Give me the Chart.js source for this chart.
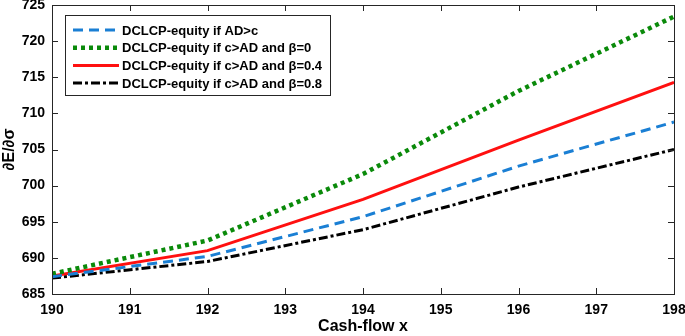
<!DOCTYPE html>
<html>
<head>
<meta charset="utf-8">
<script src="https://cdn.jsdelivr.net/npm/chart.js@4.4.1/dist/chart.umd.min.js"></script>
<style>
  html, body { margin: 0; padding: 0; background: #fff; }
  #wrap { width: 685px; height: 336px; position: relative; }
</style>
</head>
<body>
<div id="wrap"><canvas id="chart"></canvas></div>
<script>
// cash-flow values on the x axis
const cashFlow = [190, 192, 194, 196, 198];

// dE/dsigma for each case
const adGreaterC = [687.4, 690.2, 695.7, 702.7, 708.8];
const beta0 = [687.8, 692.4, 701.6, 713.1, 723.4];
const beta04 = [687.5, 691.0, 698.1, 706.3, 714.3];
const beta08 = [687.2, 689.5, 693.9, 699.8, 705.0];

const xTicks = [190, 191, 192, 193, 194, 195, 196, 197, 198];
const yTicks = [685, 690, 695, 700, 705, 710, 715, 720, 725];

const seriesNames = [
    "DCLCP-equity if AD>c",
    "DCLCP-equity if c>AD and \u03b2=0",
    "DCLCP-equity if c>AD and \u03b2=0.4",
    "DCLCP-equity if c>AD and \u03b2=0.8"
];

function toPoints(ys) {
    return cashFlow.map((x, i) => ({ x: x, y: ys[i] }));
}

const fontFamily = "'Liberation Sans', Arial, sans-serif";

// box around the plot with inward ticks, like the original figure
const boxPlugin = {
    id: "box",
    afterDraw(chart) {
        const ctx = chart.ctx;
        const a = chart.chartArea;
        const xs = chart.scales.x;
        const ys = chart.scales.y;
        ctx.save();
        ctx.strokeStyle = "#262626";
        ctx.lineWidth = 1;
        ctx.strokeRect(a.left + 0.5, a.top + 0.5, a.right - a.left, a.bottom - a.top);
        ctx.beginPath();
        xTicks.forEach((v) => {
            const px = Math.round(xs.getPixelForValue(v)) + 0.5;
            ctx.moveTo(px, a.bottom); ctx.lineTo(px, a.bottom - 6);
            ctx.moveTo(px, a.top); ctx.lineTo(px, a.top + 6);
        });
        yTicks.forEach((v) => {
            const py = Math.round(ys.getPixelForValue(v)) + 0.5;
            ctx.moveTo(a.left, py); ctx.lineTo(a.left + 6, py);
            ctx.moveTo(a.right, py); ctx.lineTo(a.right - 6, py);
        });
        ctx.stroke();

        // legend inside plot
        const lx = 65, ly = 15, lw = 265, lh = 80;
        ctx.fillStyle = "#fff";
        ctx.fillRect(lx, ly, lw, lh);
        ctx.strokeStyle = "#262626";
        ctx.strokeRect(lx + 0.5, ly + 0.5, lw, lh);
        ctx.font = "bold 13px " + fontFamily;
        ctx.textBaseline = "middle";
        chart.data.datasets.forEach((ds, i) => {
            const ry = 30 + i * 17.7;
            ctx.beginPath();
            ctx.strokeStyle = ds.borderColor;
            ctx.lineWidth = ds.borderWidth;
            ctx.setLineDash(ds.borderDash || []);
            ctx.moveTo(73, ry);
            ctx.lineTo(119, ry);
            ctx.stroke();
            ctx.setLineDash([]);
            ctx.fillStyle = "#000";
            ctx.fillText(ds.label, 122, ry + 1);
        });
        ctx.restore();
    }
};

new Chart(document.getElementById("chart"), {
    type: "line",
    data: {
        datasets: [
            { label: seriesNames[0], data: toPoints(adGreaterC), borderColor: "#1a7fd4", borderWidth: 3, borderDash: [10, 6] },
            { label: seriesNames[1], data: toPoints(beta0), borderColor: "#0a8a0a", borderWidth: 4.5, borderDash: [4, 4] },
            { label: seriesNames[2], data: toPoints(beta04), borderColor: "#ff1010", borderWidth: 3, borderDash: [] },
            { label: seriesNames[3], data: toPoints(beta08), borderColor: "#000000", borderWidth: 3, borderDash: [9, 3, 3, 3] }
        ]
    },
    options: {
        responsive: true,
        maintainAspectRatio: false,
        animation: false,
        elements: { point: { radius: 0 }, line: { tension: 0 } },
        layout: { padding: { top: 5, right: 11, left: 0, bottom: 0 } },
        plugins: { legend: { display: false }, tooltip: { enabled: false } },
        scales: {
            x: {
                type: "linear",
                min: 190,
                max: 198,
                afterBuildTicks: (s) => { s.ticks = xTicks.map((v) => ({ value: v })); },
                afterFit: (s) => { s.height = 42; s.paddingLeft = 0; s.paddingRight = 0; },
                grid: { display: false, drawTicks: false },
                border: { display: false },
                ticks: { color: "#000", padding: 8, maxRotation: 0, font: { family: fontFamily, size: 14, weight: "bold" } },
                title: { display: true, text: "Cash-flow x", color: "#000", padding: 0, font: { family: fontFamily, size: 16, weight: "bold" } }
            },
            y: {
                min: 685,
                max: 725,
                afterBuildTicks: (s) => { s.ticks = yTicks.map((v) => ({ value: v })); },
                afterFit: (s) => { s.width = 52; s.paddingTop = 0; s.paddingBottom = 0; },
                grid: { display: false, drawTicks: false },
                border: { display: false },
                ticks: { color: "#000", padding: 7, font: { family: fontFamily, size: 14, weight: "bold" } },
                title: { display: true, text: "\u2202E/\u2202\u03c3", color: "#000", padding: 0, font: { family: fontFamily, size: 16, weight: "bold" } }
            }
        }
    },
    plugins: [boxPlugin]
});
</script>
</body>
</html>
